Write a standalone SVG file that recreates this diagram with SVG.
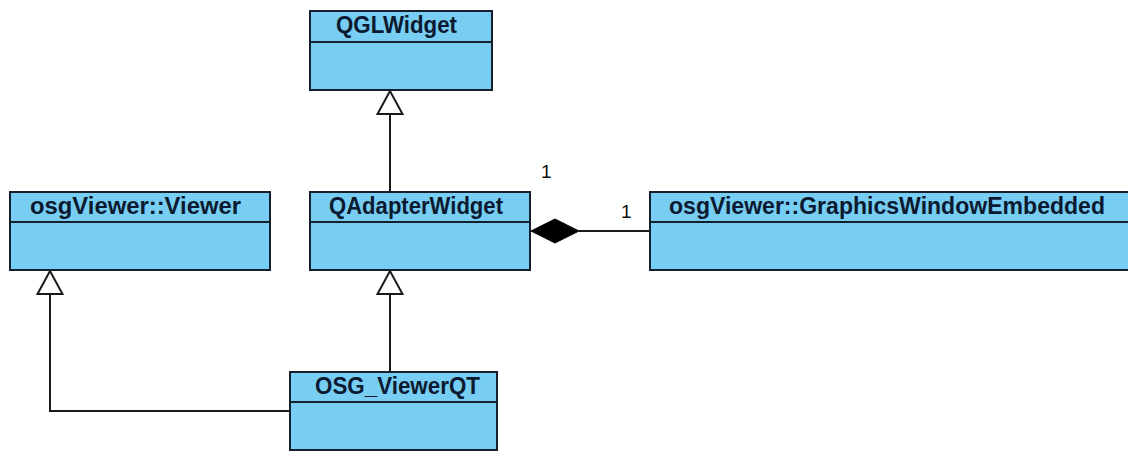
<svg xmlns="http://www.w3.org/2000/svg" width="1128" height="451" viewBox="0 0 1128 451">
  <style>
    .box { fill: #78cdf2; stroke: #16202c; stroke-width: 2; }
    .div { stroke: #16202c; stroke-width: 2; }
    .title { font-family: "Liberation Sans", Arial, sans-serif; font-weight: bold; font-size: 23px; fill: #0b1a30; }
    .edge { fill: none; stroke: #1a1a1a; stroke-width: 2; }
    .gen { fill: #ffffff; stroke: #1a1a1a; stroke-width: 2; stroke-linejoin: miter; }
    .comp { fill: #000000; stroke: #000000; stroke-width: 1; }
    .mult { font-family: "Liberation Sans", Arial, sans-serif; font-size: 19px; fill: #111111; }
  </style>
  <rect width="1128" height="451" fill="#ffffff"/>

  <!-- connectors -->
  <g id="connectors">
    <!-- QAdapterWidget -> QGLWidget -->
    <line class="edge" x1="390" y1="192" x2="390" y2="114"/>
    <polygon class="gen" points="390,91 377.5,114 402.5,114"/>
    <!-- OSG_ViewerQT -> QAdapterWidget -->
    <line class="edge" x1="390" y1="371" x2="390" y2="294"/>
    <polygon class="gen" points="390,271 377.5,294 402.5,294"/>
    <!-- OSG_ViewerQT -> osgViewer::Viewer -->
    <polyline class="edge" points="290,411 50,411 50,294"/>
    <polygon class="gen" points="50,271 37.5,294 62.5,294"/>
    <!-- QAdapterWidget <>- osgViewer::GraphicsWindowEmbedded -->
    <line class="edge" x1="579" y1="231" x2="650" y2="231"/>
    <polygon class="comp" points="531,231 555,219 579,231 555,243"/>
    <text class="mult" x="541" y="178">1</text>
    <text class="mult" x="621" y="218">1</text>
  </g>

  <g id="QGLWidget">
    <rect class="box" x="310" y="11" width="182" height="79"/>
    <line class="div" x1="310" y1="42" x2="492" y2="42"/>
    <text class="title" x="336" y="33" textLength="121" lengthAdjust="spacingAndGlyphs">QGLWidget</text>
  </g>

  <g id="osgViewer_Viewer">
    <rect class="box" x="10" y="192" width="260" height="78"/>
    <line class="div" x1="10" y1="222" x2="270" y2="222"/>
    <text class="title" x="30" y="214" textLength="211" lengthAdjust="spacingAndGlyphs">osgViewer::Viewer</text>
  </g>

  <g id="QAdapterWidget">
    <rect class="box" x="310" y="192" width="220" height="78"/>
    <line class="div" x1="310" y1="222" x2="530" y2="222"/>
    <text class="title" x="329" y="214" textLength="174" lengthAdjust="spacingAndGlyphs">QAdapterWidget</text>
  </g>

  <g id="GraphicsWindowEmbedded">
    <rect class="box" x="650" y="192" width="482" height="78"/>
    <line class="div" x1="650" y1="222" x2="1132" y2="222"/>
    <text class="title" x="669" y="214" textLength="436" lengthAdjust="spacingAndGlyphs">osgViewer::GraphicsWindowEmbedded</text>
  </g>

  <g id="OSG_ViewerQT">
    <rect class="box" x="290" y="372" width="207" height="78"/>
    <line class="div" x1="290" y1="402" x2="497" y2="402"/>
    <text class="title" x="315" y="394" textLength="165" lengthAdjust="spacingAndGlyphs">OSG_ViewerQT</text>
  </g>
</svg>
